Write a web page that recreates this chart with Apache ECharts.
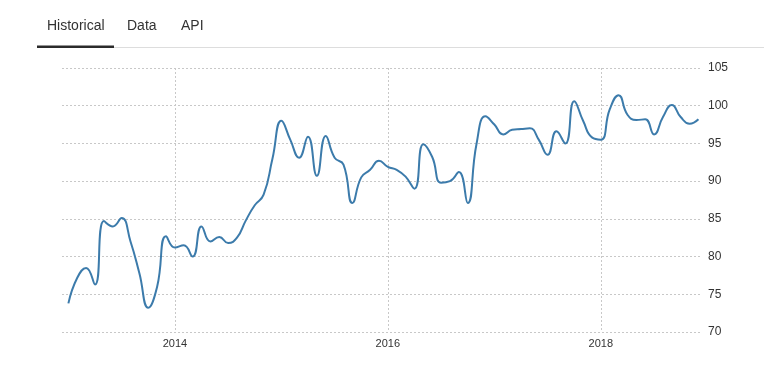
<!DOCTYPE html>
<html>
<head>
<meta charset="utf-8">
<script src="https://cdn.jsdelivr.net/npm/echarts@6/dist/echarts.min.js"></script>
<style>
html,body{margin:0;padding:0;background:#fff;}
#chart{width:764px;height:370px;}
</style>
</head>
<body>
<div id="chart"></div>
<script>
// Monthly observations, Jan 2013 .. Dec 2018
const months = [];
for (let y = 2013; y <= 2018; y++) for (let m = 1; m <= 12; m++) months.push(y + '-' + String(m).padStart(2, '0'));
const values = [
  73.8, 77.2, 78.5, 76.3, 84.7, 84.0, 85.1, 82.0, 77.8, 73.2, 76.0, 82.7,
  81.2, 81.5, 80.0, 84.0, 82.0, 82.6, 81.8, 82.5, 84.8, 86.8, 88.2, 93.0,
  98.0, 95.5, 93.1, 95.9, 90.7, 96.0, 93.1, 92.2, 87.1, 90.5, 91.5, 92.7,
  91.9, 91.5, 90.6, 89.0, 94.9, 93.2, 89.8, 90.0, 91.2, 87.1, 95.0, 98.6,
  97.5, 96.2, 96.8, 96.9, 97.0, 95.5, 93.5, 96.6, 95.0, 100.6, 98.0, 95.8,
  95.5, 99.5, 101.4, 98.8, 98.1, 98.2, 96.2, 98.5, 100.1, 98.5, 97.6, 98.2
];
const xTicks = [2014, 2016, 2018];
const tabs = ['Historical', 'Data', 'API'];

function monthToYear(s) {
  const p = s.split('-');
  return Number(p[0]) + (Number(p[1]) - 1) / 12;
}
const seriesData = months.map((m, i) => [monthToYear(m), values[i]]);

const chart = echarts.init(document.getElementById('chart'), null, {renderer: 'canvas'});
const font = 'Arial, "Liberation Sans", sans-serif';
const tabFont = '14px Arial, "Liberation Sans", sans-serif';
chart.setOption({
  animation: false,
  backgroundColor: '#fff',
  grid: {left: 62, right: 62, top: 68, bottom: 38, containLabel: false},
  xAxis: {
    type: 'value',
    min: 2012.94,
    max: 2018.95,
    axisLine: {show: false},
    axisTick: {show: false, customValues: xTicks},
    axisLabel: {customValues: xTicks, color: '#333', fontSize: 11, fontFamily: font, margin: 6,
      formatter: v => String(Math.round(v))},
    splitLine: {show: true, lineStyle: {color: '#c8c8c8', type: [2, 2], width: 1}}
  },
  yAxis: {
    type: 'value',
    position: 'right',
    min: 70, max: 105, interval: 5,
    axisLine: {show: false},
    axisTick: {show: false},
    axisLabel: {color: '#333', fontSize: 12, fontFamily: font, margin: 6},
    splitLine: {show: true, lineStyle: {color: '#c8c8c8', type: [2, 2], width: 1}}
  },
  graphic: [
    {type: 'text', x: 47, y: 26, style: {text: tabs[0], fill: '#333', font: tabFont, verticalAlign: 'middle'}},
    {type: 'text', x: 127, y: 26, style: {text: tabs[1], fill: '#333', font: tabFont, verticalAlign: 'middle'}},
    {type: 'text', x: 181, y: 26, style: {text: tabs[2], fill: '#333', font: tabFont, verticalAlign: 'middle'}},
    {type: 'rect', shape: {x: 37, y: 47, width: 727, height: 1}, style: {fill: '#dddddd'}},
    {type: 'rect', shape: {x: 37, y: 45.5, width: 77, height: 2.5}, style: {fill: '#2b2b2b'}}
  ],
  series: [{
    type: 'line',
    data: seriesData,
    smooth: 0.5,
    symbol: 'none',
    lineStyle: {color: '#3c7bab', width: 2}
  }]
});
</script>
</body>
</html>
